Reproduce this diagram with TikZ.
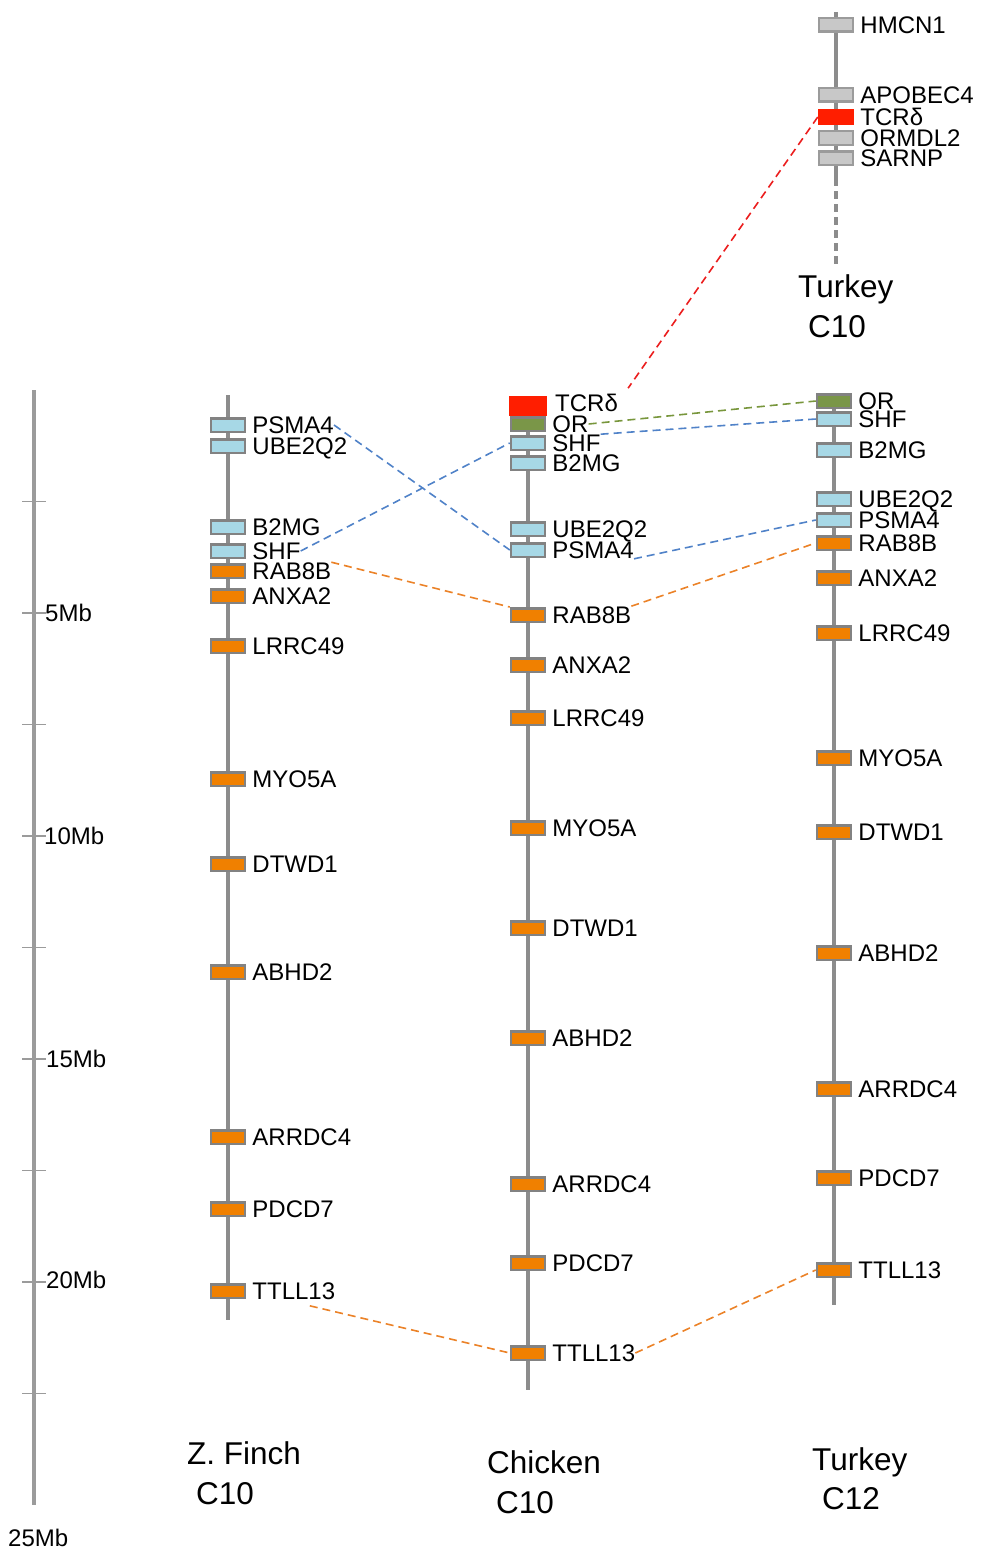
\documentclass[tikz,border=0pt]{standalone}
\usepackage{fontspec}
\setmainfont{Liberation Sans}
\definecolor{geneorange}{RGB}{240,128,0}
\definecolor{geneblue}{RGB}{167,216,230}
\definecolor{genegreen}{RGB}{122,150,72}
\definecolor{genered}{RGB}{255,30,0}
\definecolor{genegray}{RGB}{200,200,200}
\definecolor{boxborder}{RGB}{130,130,130}
\definecolor{chromgray}{RGB}{140,140,140}
\definecolor{scalegray}{RGB}{155,155,155}
\definecolor{linkblue}{RGB}{80,130,200}
\definecolor{linkorange}{RGB}{235,130,40}
\definecolor{linkgreen}{RGB}{120,150,60}
\definecolor{linkred}{RGB}{235,30,30}
\newcommand\gene[5]{%
  \node[genebox,#4] (#1) at (#2,#3) {};
  \node[genelabel] (#1-l) at ([xshift=6pt]#1.east) {#5};}
\begin{document}
\begin{tikzpicture}[x=1pt,y=-1pt,
  genebox/.style={rectangle,draw=boxborder,line width=2.5pt,minimum width=34pt,minimum height=13.5pt,inner sep=0pt},
  orangebox/.style={fill=geneorange},
  bluebox/.style={fill=geneblue},
  greenbox/.style={fill=genegreen},
  graybox/.style={fill=genegray,draw=boxborder!80},
  redbox/.style={fill=genered,draw=none,minimum width=38pt,minimum height=20pt},
  redsmall/.style={fill=genered,draw=genered,minimum width=34pt,minimum height=13pt},
  genelabel/.style={anchor=west,inner sep=0pt,font=\fontsize{24}{24}\selectfont,text height=17.2pt,text depth=0pt},
  biglabel/.style={anchor=west,inner sep=0pt,font=\fontsize{31.5}{31.5}\selectfont,text height=22.5pt,text depth=0pt},
  scalelabel/.style={anchor=west,inner sep=0pt,font=\fontsize{24}{24}\selectfont,text height=17.2pt,text depth=0pt},
  chrom/.style={draw=chromgray,line width=4pt},
  scalebar/.style={draw=scalegray,line width=4pt},
  tick/.style={draw=scalegray,line width=1.5pt},
  link/.style={dashed,dash pattern=on 8pt off 5pt,line width=1.6pt}
]
\useasboundingbox (0,0) rectangle (981,1552);

% scale bar
\coordinate (s-top) at (34,390);
\coordinate (s-bot) at (34,1505);
\draw[scalebar] (s-top) -- (s-bot);
\foreach \yy in {501.5,613,724.5,836,947.5,1059,1170.5,1282,1393.5}
  \draw[tick] (22,\yy) -- (46,\yy);
\node[scalelabel] (s5) at (45,613) {5Mb};
\node[scalelabel] (s10) at (44,836) {10Mb};
\node[scalelabel] (s15) at (46,1059) {15Mb};
\node[scalelabel] (s20) at (46,1280) {20Mb};
\node[scalelabel] (s25) at (8,1538) {25Mb};

% chromosomes
\coordinate (f-top) at (228,395); \coordinate (f-bot) at (228,1320);
\coordinate (c-top) at (528,396); \coordinate (c-bot) at (528,1390);
\coordinate (t-top) at (834,393); \coordinate (t-bot) at (834,1305);
\coordinate (t10-top) at (836,12); \coordinate (t10-mid) at (836,178); \coordinate (t10-bot) at (836,265);
\draw[chrom] (f-top) -- (f-bot);
\draw[chrom] (c-top) -- (c-bot);
\draw[chrom] (t-top) -- (t-bot);
\draw[chrom] (t10-top) -- (t10-mid);
\draw[chrom,dash pattern=on 8pt off 5pt] (t10-mid) -- (t10-bot);

% Turkey C10
\gene{t10-hmcn}{836}{25}{graybox}{HMCN1}
\gene{t10-apo}{836}{95}{graybox}{APOBEC4}
\gene{t10-tcr}{836}{117}{redsmall}{TCRδ}
\gene{t10-orm}{836}{138}{graybox}{ORMDL2}
\gene{t10-sar}{836}{158}{graybox}{SARNP}
\node[biglabel] (t10-name) at (798,286) {Turkey};
\node[biglabel] (t10-chr) at (808,326) {C10};

% Z. Finch C10
\gene{f-psma}{228}{425}{bluebox}{PSMA4}
\gene{f-ube}{228}{446}{bluebox}{UBE2Q2}
\gene{f-b2mg}{228}{527}{bluebox}{B2MG}
\gene{f-shf}{228}{551}{bluebox}{SHF}
\gene{f-rab}{228}{571}{orangebox}{RAB8B}
\gene{f-anx}{228}{596}{orangebox}{ANXA2}
\gene{f-lrr}{228}{646}{orangebox}{LRRC49}
\gene{f-myo}{228}{779}{orangebox}{MYO5A}
\gene{f-dtw}{228}{864}{orangebox}{DTWD1}
\gene{f-abh}{228}{972}{orangebox}{ABHD2}
\gene{f-arr}{228}{1137}{orangebox}{ARRDC4}
\gene{f-pdc}{228}{1209}{orangebox}{PDCD7}
\gene{f-ttll}{228}{1291}{orangebox}{TTLL13}
\node[biglabel] (f-name) at (187,1453) {Z. Finch};
\node[biglabel] (f-chr) at (196,1493) {C10};

% Chicken C10
\node[genebox,redbox] (c-tcr) at (528,406) {};
\node[genelabel] (c-tcr-l) at (555,403) {TCRδ};
\gene{c-or}{528}{424}{greenbox}{OR}
\gene{c-shf}{528}{443}{bluebox}{SHF}
\gene{c-b2mg}{528}{463}{bluebox}{B2MG}
\gene{c-ube}{528}{529}{bluebox}{UBE2Q2}
\gene{c-psma}{528}{550}{bluebox}{PSMA4}
\gene{c-rab}{528}{615}{orangebox}{RAB8B}
\gene{c-anx}{528}{665}{orangebox}{ANXA2}
\gene{c-lrr}{528}{718}{orangebox}{LRRC49}
\gene{c-myo}{528}{828}{orangebox}{MYO5A}
\gene{c-dtw}{528}{928}{orangebox}{DTWD1}
\gene{c-abh}{528}{1038}{orangebox}{ABHD2}
\gene{c-arr}{528}{1184}{orangebox}{ARRDC4}
\gene{c-pdc}{528}{1263}{orangebox}{PDCD7}
\gene{c-ttll}{528}{1353}{orangebox}{TTLL13}
\node[biglabel] (c-name) at (487,1462) {Chicken};
\node[biglabel] (c-chr) at (496,1502) {C10};

% Turkey C12
\gene{t-or}{834}{401}{greenbox}{OR}
\gene{t-shf}{834}{419}{bluebox}{SHF}
\gene{t-b2mg}{834}{450}{bluebox}{B2MG}
\gene{t-ube}{834}{499}{bluebox}{UBE2Q2}
\gene{t-psma}{834}{520}{bluebox}{PSMA4}
\gene{t-rab}{834}{543}{orangebox}{RAB8B}
\gene{t-anx}{834}{578}{orangebox}{ANXA2}
\gene{t-lrr}{834}{633}{orangebox}{LRRC49}
\gene{t-myo}{834}{758}{orangebox}{MYO5A}
\gene{t-dtw}{834}{832}{orangebox}{DTWD1}
\gene{t-abh}{834}{953}{orangebox}{ABHD2}
\gene{t-arr}{834}{1089}{orangebox}{ARRDC4}
\gene{t-pdc}{834}{1178}{orangebox}{PDCD7}
\gene{t-ttll}{834}{1270}{orangebox}{TTLL13}
\node[biglabel] (t-name) at (812,1459) {Turkey};
\node[biglabel] (t-chr) at (822,1498) {C12};

% connectors
\coordinate (c-tcr-end) at ([shift={(10,-6)}]c-tcr-l.north east);
\coordinate (f-ttll-end) at ([shift={(16,6)}]f-ttll-l.south);
\draw[link,linkred] (t10-tcr.west) -- (c-tcr-end);
\draw[link,linkgreen] (c-or-l.east) -- (t-or.west);
\draw[link,linkblue] (c-shf-l.north east) -- (t-shf.west);
\draw[link,linkblue] (f-psma-l.east) -- (c-psma.west);
\draw[link,linkblue] (f-shf-l.east) -- (c-shf.west);
\draw[link,linkorange] (f-rab-l.north east) -- (c-rab.north west);
\draw[link,linkblue] (c-psma-l.south east) -- (t-psma.west);
\draw[link,linkorange] (c-rab-l.north east) -- (t-rab.west);
\draw[link,linkorange] (f-ttll-end) -- (c-ttll.west);
\draw[link,linkorange] (c-ttll-l.east) -- (t-ttll.west);
\end{tikzpicture}
\end{document}
